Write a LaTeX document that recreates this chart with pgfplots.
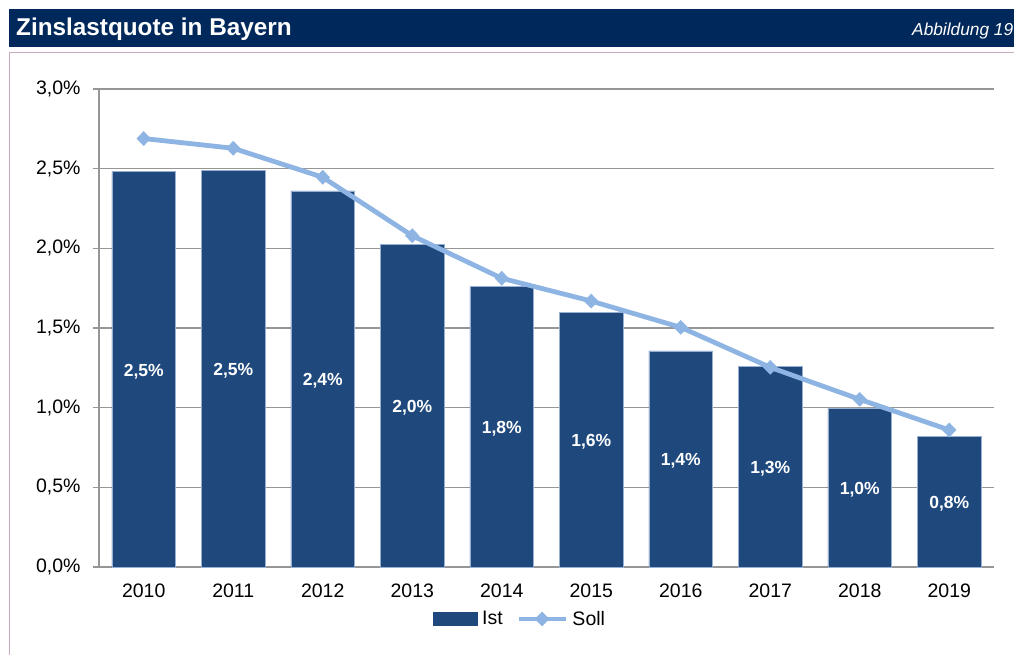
\documentclass[border=0pt]{standalone}
\usepackage{fontspec}
\setmainfont{Liberation Sans}
\usepackage{pgfplots}
\pgfplotsset{compat=1.18}
\usepackage{pgfplotstable}
\definecolor{barblue}{HTML}{1F497D}
\definecolor{baredge}{HTML}{96AFD2}
\definecolor{lineblue}{HTML}{8DB4E2}
\definecolor{navy}{HTML}{00285A}
\definecolor{gridgray}{HTML}{969696}
\definecolor{framec}{HTML}{C9A9BE}

\pgfplotstableread{
x ist soll lab
0 2.481 2.689 2,5
1 2.487 2.628 2,5
2 2.360 2.446 2,4
3 2.025 2.079 2,0
4 1.762 1.812 1,8
5 1.596 1.669 1,6
6 1.356 1.504 1,4
7 1.257 1.253 1,3
8 0.995 1.052 1,0
9 0.818 0.860 0,8
}\datatable

\pgfplotsset{
  istlegend/.style={legend image code/.code={\fill[barblue] (0pt,-6.5pt) rectangle (44pt,6.5pt);}},
  solllegend/.style={legend image code/.code={\draw[##1, mark repeat=2, mark phase=2] plot coordinates {(0pt,0pt) (23.5pt,0pt) (47pt,0pt)};}},
}

\begin{document}
\begin{tikzpicture}
\useasboundingbox (0pt,0pt) rectangle (1014pt,655pt);
% title bar
\fill[navy] (9pt,607.5pt) rectangle (1014pt,646pt);
\node[anchor=base west, inner sep=0pt, text=white, font=\bfseries\fontsize{24.3}{25}\selectfont] at (16pt,619pt) {Zinslastquote in Bayern};
\node[anchor=base west, inner sep=0pt, text=white, font=\itshape\fontsize{17.3}{18}\selectfont] at (912pt,619pt) {Abbildung 19};
% frame
\draw[framec, line width=1pt] (9pt,0pt) -- (9pt,602.7pt) -- (1014pt,602.7pt);
\begin{axis}[
  at={(99pt,88pt)}, anchor=south west,
  scale only axis, width=895pt, height=478pt,
  xmin=-0.5, xmax=9.5, ymin=0, ymax=3,
  axis lines*=left,
  axis line style={gridgray, line width=1.6pt},
  ymajorgrids, grid style={gridgray, line width=1.3pt},
  ytick={0,0.5,...,3.0},
  yticklabels={{0,0\%},{0,5\%},{1,0\%},{1,5\%},{2,0\%},{2,5\%},{3,0\%}},
  xtick={0,...,9},
  xticklabels={2010,2011,2012,2013,2014,2015,2016,2017,2018,2019},
  x tick style={draw=none},
  y tick style={gridgray, line width=1.5pt},
  tick align=outside, major tick length=6pt,
  extra x ticks={-0.5,0.5,...,9.5},
  extra x tick labels={},
  extra x tick style={tick style={draw=gridgray, line width=1.5pt}, major tick length=6pt},
  ticklabel style={font=\fontsize{19.5}{20}\selectfont},
  yticklabel style={xshift=-9pt},
  xticklabel style={yshift=-7pt},
  legend style={draw=none, fill=none, at={(0.470,-0.1088)}, anchor=center,
    legend columns=2, font=\fontsize{19.5}{20}\selectfont,
    /tikz/every odd column/.append style={column sep=3pt},
    /tikz/every even column/.append style={column sep=12pt},
    nodes={inner sep=1.5pt}},
  clip=false,
]
\addplot[ybar, bar width=0.71, fill=barblue, draw=baredge, line width=0.8pt,
  point meta=explicit symbolic,
  nodes near coords={\pgfplotspointmeta\%},
  visualization depends on={rawy \as \rawy},
  every node near coord/.append style={font=\bfseries\fontsize{17.5}{18}\selectfont, text=white, anchor=center, yshift=-2pt, shift={(axis direction cs:0,-\rawy/2)}},
  istlegend,
] table[x=x, y=ist, meta=lab] {\datatable};
\addlegendentry{Ist}
\addplot[lineblue, line width=4.8pt, mark=diamond*, mark size=7pt,
  mark options={fill=lineblue, draw=lineblue, line width=0.5pt, xscale=1.3},
  solllegend,
] table[x=x, y=soll] {\datatable};
\addlegendentry{Soll}
\end{axis}
\end{tikzpicture}
\end{document}
